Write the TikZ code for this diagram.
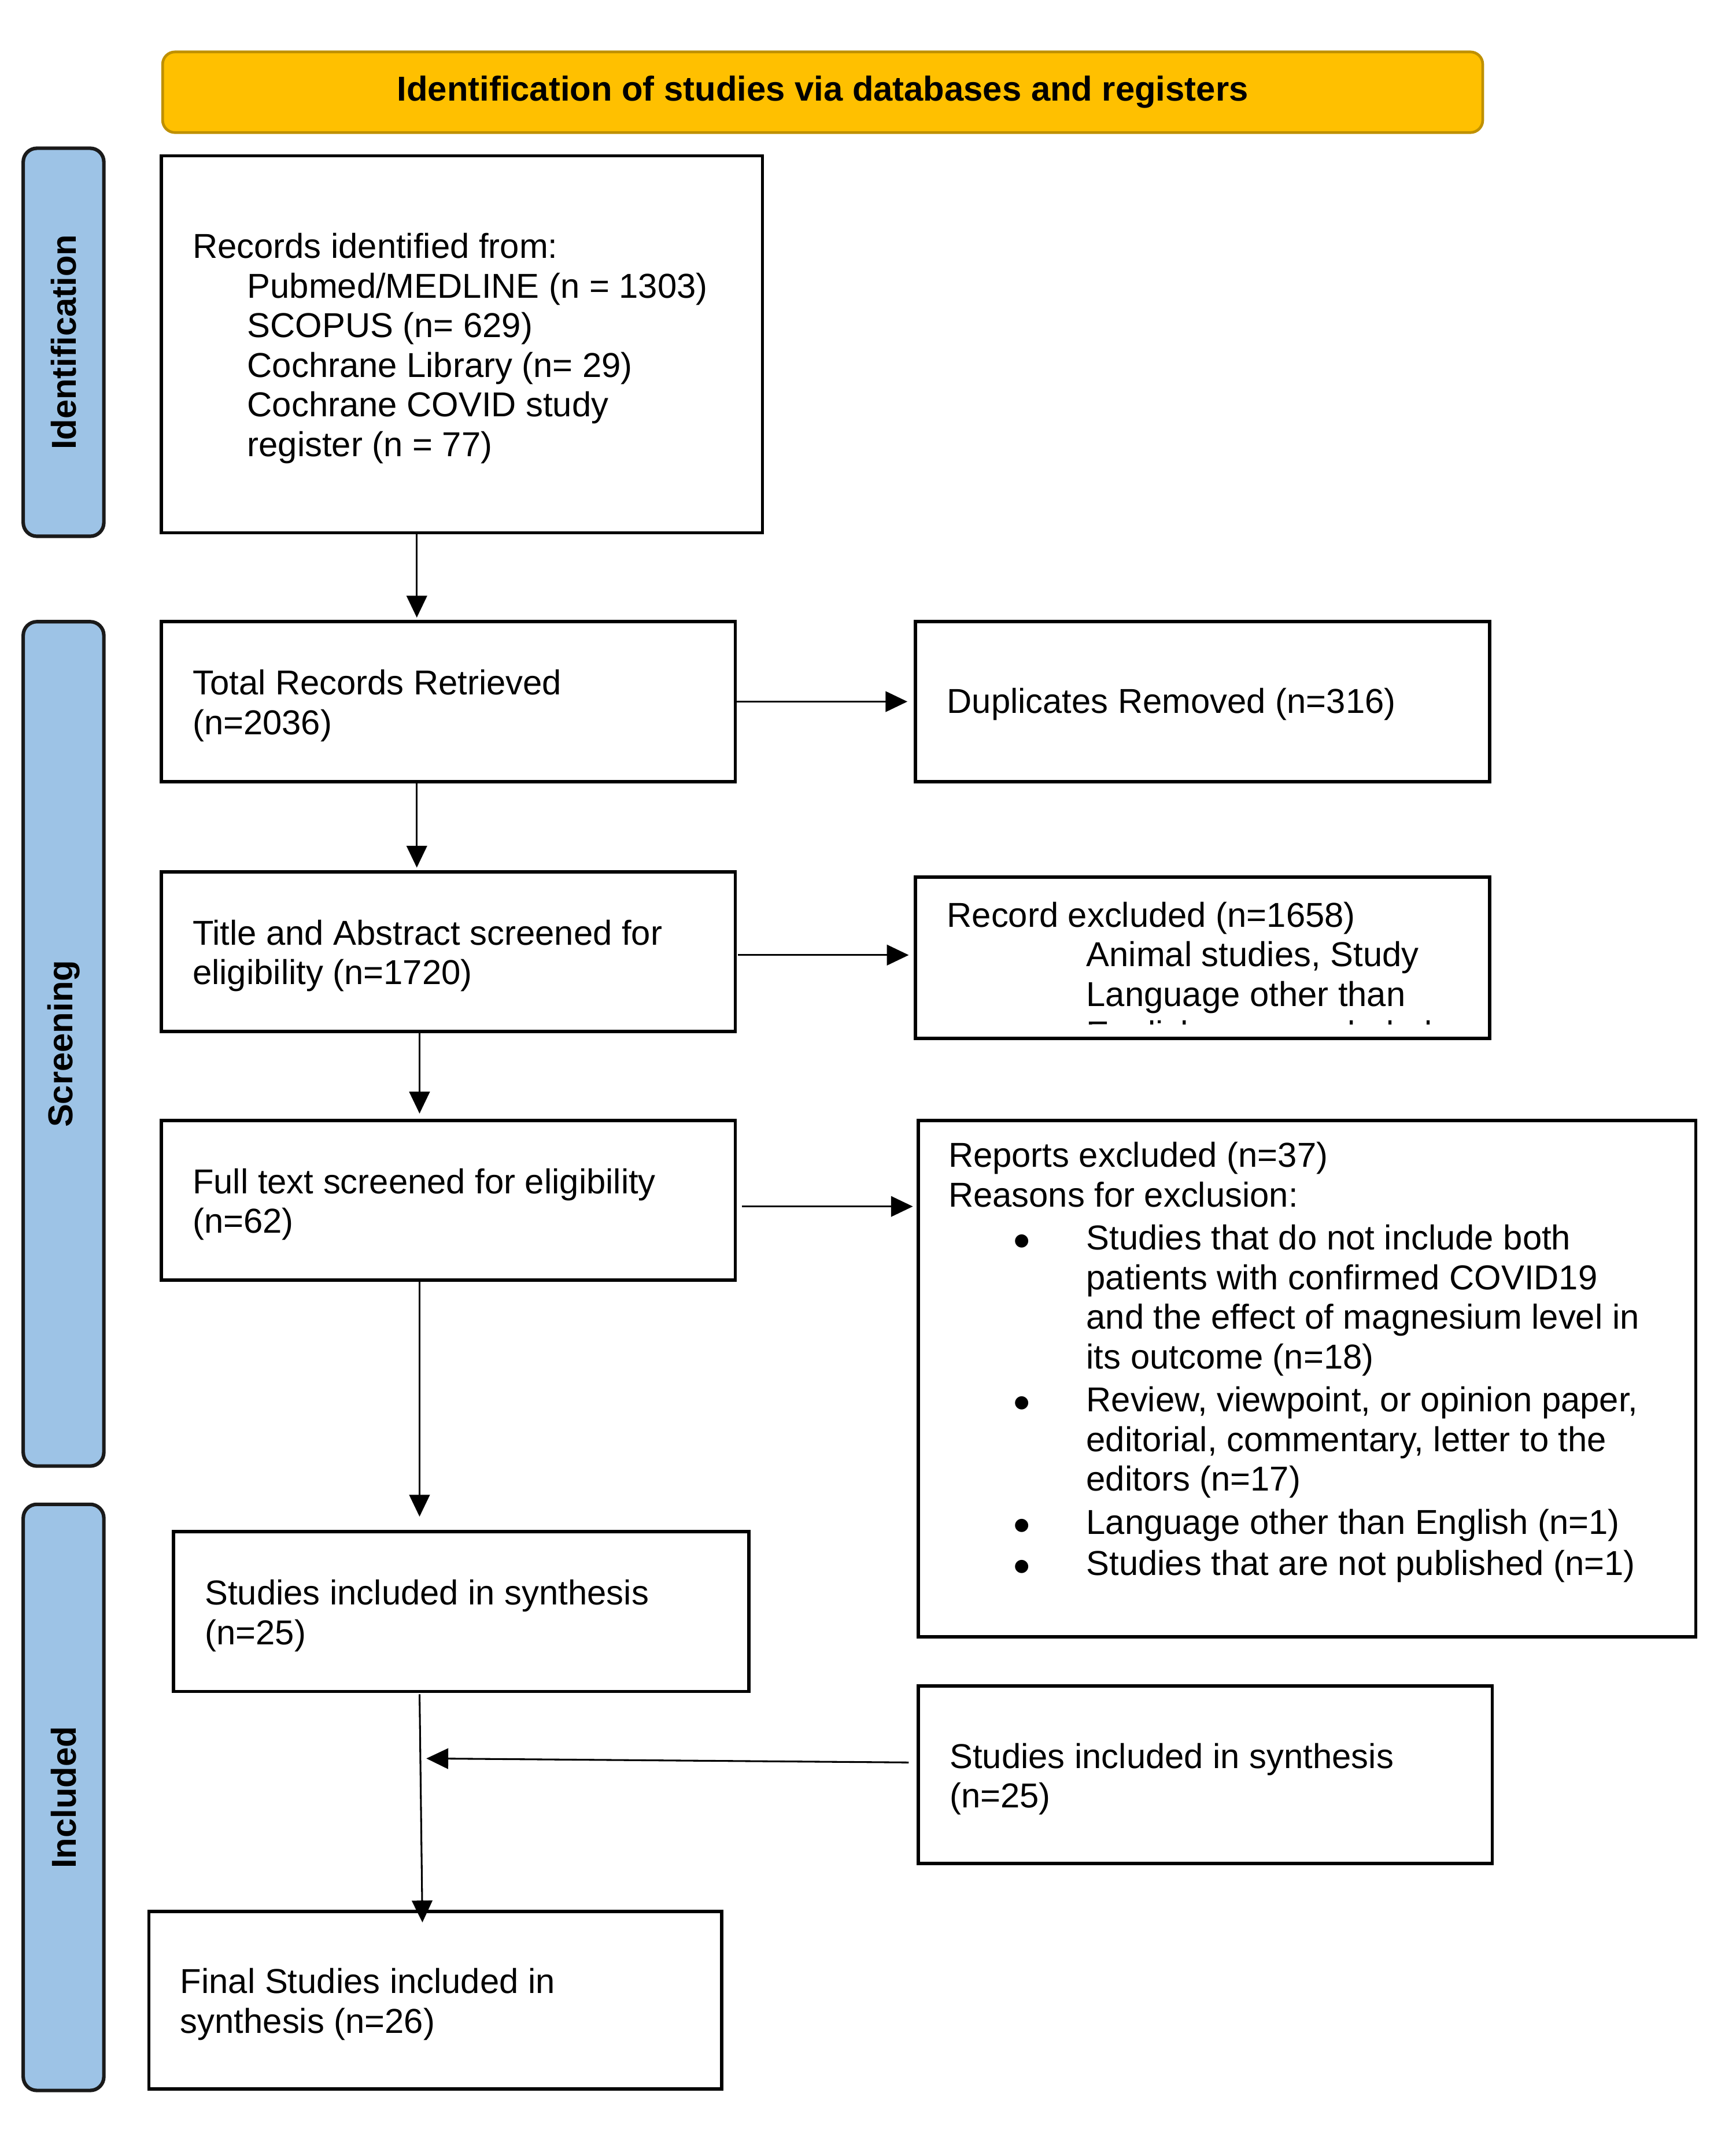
\documentclass[tikz,border=0pt]{standalone}
\usepackage{fontspec}
\setmainfont{Liberation Sans}
\usetikzlibrary{arrows.meta}
\definecolor{hdrfill}{HTML}{FFC000}
\definecolor{hdrdraw}{HTML}{BF9000}
\definecolor{barfill}{HTML}{9DC3E6}
\definecolor{bardraw}{HTML}{1A1A1A}
\newcommand{\bodyfont}{\fontsize{25.3}{29}\selectfont}
\newcommand{\bul}{\hspace*{47.7pt}\makebox[53.3pt][l]{$\bullet$}}
\begin{document}
\begin{tikzpicture}[x=1pt,y=-1pt,
  box/.style={draw=black, line width=2.4pt, rectangle, inner sep=0pt, outer sep=0pt, anchor=north west},
  txt/.style={inner sep=0pt, outer sep=0pt, align=left, anchor=west, font=\bodyfont},
  hdr/.style={draw=hdrdraw, fill=hdrfill, line width=2pt, rounded corners=9pt, inner sep=0pt, font=\bodyfont\bfseries},
  bar/.style={draw=bardraw, fill=barfill, line width=2.6pt, rounded corners=10pt, inner sep=0pt, rotate=90, font=\bodyfont\bfseries},
  arr/.style={line width=1.3pt, -{Triangle[length=16pt,width=15pt]}}]
\useasboundingbox[fill=white] (0,0) rectangle (1270,1567);

\node[hdr, minimum width=966pt, minimum height=59pt] (head) at (602,67.5) {Identification of studies via databases and registers};

\node[bar, minimum width=284pt, minimum height=59pt] (idbar) at (46.5,250.5) {Identification};
\node[bar, minimum width=618pt, minimum height=59pt] (scrbar) at (46.5,764) {Screening};
\node[bar, minimum width=429pt, minimum height=59pt] (incbar) at (46.5,1315.5) {Included};

\node[box, minimum width=440pt, minimum height=276pt] (rec) at (118,114) {};
\node[box, minimum width=420pt, minimum height=117pt] (tot) at (118,455) {};
\node[box, minimum width=420pt, minimum height=117pt] (dup) at (670,455) {};
\node[box, minimum width=420pt, minimum height=117pt] (tia) at (118,638) {};
\node[box, minimum width=420pt, minimum height=118pt] (rex) at (670,642) {};
\node[box, minimum width=420pt, minimum height=117pt] (ful) at (118,820) {};
\node[box, minimum width=569pt, minimum height=378pt] (rep) at (672,820) {};
\node[box, minimum width=421pt, minimum height=117pt] (inc) at (127,1121) {};
\node[box, minimum width=420pt, minimum height=130pt] (oth) at (672,1234) {};
\node[box, minimum width=419pt, minimum height=130pt] (fin) at (109,1399) {};

\node[txt] (rectxt) at ([xshift=23pt,yshift=-3pt]rec.west) {Records identified from:\\
\hspace*{40pt}Pubmed/MEDLINE (n = 1303)\\
\hspace*{40pt}SCOPUS (n= 629)\\
\hspace*{40pt}Cochrane Library (n= 29)\\
\hspace*{40pt}Cochrane COVID study\\
\hspace*{40pt}register (n = 77)};
\node[txt] (tottxt) at ([xshift=23pt,yshift=-3pt]tot.west) {Total Records Retrieved\\(n=2036)};
\node[txt] (duptxt) at ([xshift=23pt,yshift=-2pt]dup.west) {Duplicates Removed (n=316)};
\node[txt] (tiatxt) at ([xshift=23pt,yshift=-3pt]tia.west) {Title and Abstract screened for\\eligibility (n=1720)};
\begin{scope}
\clip (670,642) rectangle (1090,749.5);
\node[txt, anchor=north west] (rextxt) at (693,660) {Record excluded (n=1658)\\
\hspace*{102pt}Animal studies, Study\\
\hspace*{102pt}Language other than\\
\hspace*{102pt}English were excluded};
\end{scope}
\node[txt] (fultxt) at ([xshift=23pt,yshift=-3pt]ful.west) {Full text screened for eligibility\\(n=62)};
\node[txt, anchor=north west] (reptxt) at (694,836) {Reports excluded (n=37)\\
Reasons for exclusion:\\[2.5pt]
\bul Studies that do not include both\\
\hspace*{101pt}patients with confirmed COVID19\\
\hspace*{101pt}and the effect of magnesium level in\\
\hspace*{101pt}its outcome (n=18)\\[2.5pt]
\bul Review, viewpoint, or opinion paper,\\
\hspace*{101pt}editorial, commentary, letter to the\\
\hspace*{101pt}editors (n=17)\\[2.5pt]
\bul Language other than English (n=1)\\[1pt]
\bul Studies that are not published (n=1)};
\node[txt] (inctxt) at ([xshift=23pt,yshift=-3pt]inc.west) {Studies included in synthesis\\(n=25)};
\node[txt] (othtxt) at ([xshift=23pt,yshift=-3pt]oth.west) {Studies included in synthesis\\(n=25)};
\node[txt] (fintxt) at ([xshift=23pt,yshift=-3pt]fin.west) {Final Studies included in\\synthesis (n=26)};

\coordinate (xa) at (305,0);
\coordinate (xb) at (307,0);
\coordinate (xc) at (309,0);
\coordinate (t9) at (312,1287);

\draw[arr, shorten >=3pt] (rec.south -| xa) -- (tot.north -| xa);
\draw[arr, shorten >=6pt] (tot.east) -- (dup.west |- tot.east);
\draw[arr, shorten >=3pt] (tot.south -| xa) -- (tia.north -| xa);
\draw[arr, shorten <=2pt, shorten >=5pt] ([yshift=-2.5pt]tia.east) -- ([yshift=-2.5pt]tia.east -| rex.west);
\draw[arr, shorten >=5pt] (tia.south -| xb) -- (ful.north -| xb);
\draw[arr, shorten <=5pt, shorten >=4pt] ([yshift=-4.5pt]ful.east) -- ([yshift=-4.5pt]ful.east -| rep.west);
\draw[arr, shorten >=11pt] (ful.south -| xb) -- (inc.north -| xb);
\draw[arr, shorten <=2pt, shorten >=-8pt] (inc.south -| xb) -- (fin.north -| xc);
\draw[arr, shorten <=7pt] ([yshift=9pt]oth.west) -- (t9);
\end{tikzpicture}
\end{document}
